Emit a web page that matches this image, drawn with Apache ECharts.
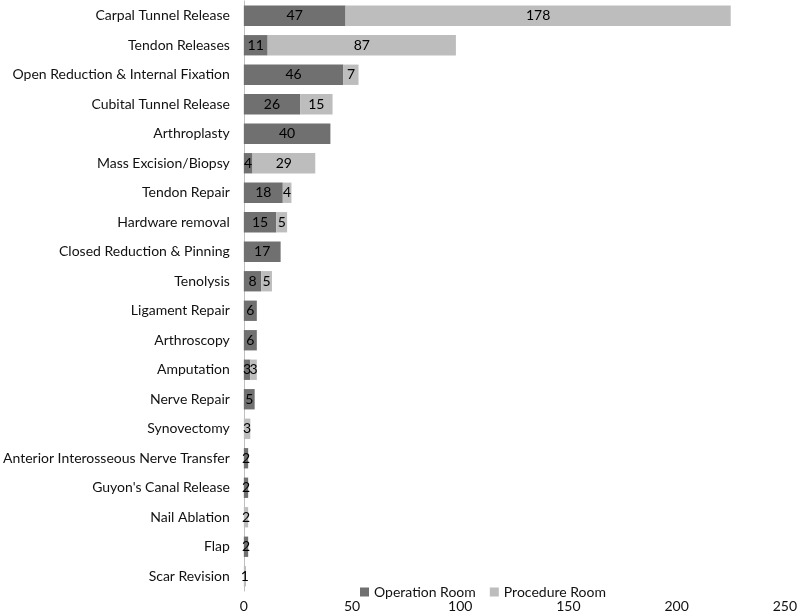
<!DOCTYPE html>
<html>
<head>
<meta charset="utf-8">
<script src="https://cdn.jsdelivr.net/npm/echarts@6/dist/echarts.min.js"></script>
<style>html,body{margin:0;padding:0;background:#fff}#c{width:800px;height:615px}</style>
</head>
<body>
<div id="c"></div>
<script>
const categories = ["Carpal Tunnel Release","Tendon Releases","Open Reduction & Internal Fixation","Cubital Tunnel Release","Arthroplasty","Mass Excision/Biopsy","Tendon Repair","Hardware removal","Closed Reduction & Pinning","Tenolysis","Ligament Repair","Arthroscopy","Amputation","Nerve Repair","Synovectomy","Anterior Interosseous Nerve Transfer","Guyon's Canal Release","Nail Ablation","Flap","Scar Revision"];
const operationRoom = [47,11,46,26,40,4,18,15,17,8,6,6,3,5,0,2,2,0,2,0];
const procedureRoom = [178,87,7,15,0,29,4,5,0,5,0,0,3,0,3,0,0,2,0,1];
const xTicks = [0,50,100,150,200,250];

const FONT = 'Lato';
const chart = echarts.init(document.getElementById('c'));
const lbl = {
  show: true, position: 'inside', color: '#000', fontFamily: FONT, fontSize: 14,
  formatter: p => p.value ? String(p.value) : ''
};
chart.setOption({
  animation: false,
  textStyle: { fontFamily: FONT },
  legend: {
    data: ['Operation Room','Procedure Room'],
    left: 355, top: 580, icon: 'rect', itemWidth: 9, itemHeight: 9, itemGap: 14,
    textStyle: { fontFamily: FONT, fontSize: 14, color: '#111' }
  },
  grid: { left: 243, right: 11, top: 1, bottom: 24, containLabel: false },
  xAxis: {
    type: 'value', min: xTicks[0], max: xTicks[xTicks.length-1], interval: 50,
    axisLine: { show: false }, axisTick: { show: false }, splitLine: { show: false },
    axisLabel: { fontFamily: FONT, fontSize: 14, color: '#111', margin: 8 }
  },
  yAxis: {
    type: 'category', data: categories, inverse: true,
    axisLine: { show: true, lineStyle: { color: '#bfbfbf', width: 1 } },
    axisTick: { show: false },
    axisLabel: { fontFamily: FONT, fontSize: 14, color: '#111', margin: 14 }
  },
  series: [
    { name: 'Operation Room', type: 'bar', stack: 'a', data: operationRoom, barCategoryGap: '31%',
      itemStyle: { color: '#707070' }, label: lbl },
    { name: 'Procedure Room', type: 'bar', stack: 'a', data: procedureRoom,
      itemStyle: { color: '#bdbdbd' }, label: lbl }
  ]
});
</script>
</body>
</html>
